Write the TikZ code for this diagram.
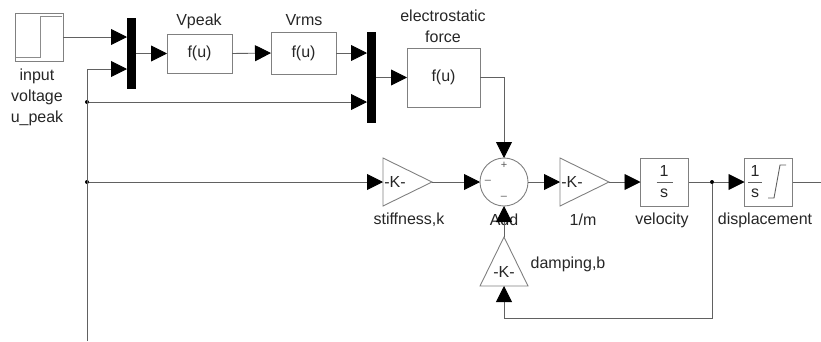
\documentclass[tikz,border=0pt]{standalone}
\usepackage{fontspec}
\setmainfont{Liberation Sans}
\usetikzlibrary{arrows.meta, calc, shapes.geometric}
\tikzset{
	diagram/.style={x=1pt,y=-1pt,font=\fontsize{16}{21}\selectfont,text=black!85},
	block/.style={rectangle,draw=black!50,line width=0.9pt,inner sep=0pt,outer sep=0pt},
	mux/.style={rectangle,fill=black,inner sep=0pt,outer sep=0pt,minimum width=9pt},
	gain/.style={isosceles triangle,isosceles triangle stretches,draw=black!50,line width=0.9pt,
		inner sep=0pt,outer sep=0pt,minimum width=48pt,minimum height=49pt},
	wire/.style={draw=black!62,line width=0.9pt},
	feed/.style={wire,-{Triangle[length=16pt,width=16pt,color=black]}},
	dot/.style={circle,fill=black,inner sep=0pt,outer sep=0pt,minimum size=4pt},
	caption/.style={align=center,inner sep=0pt},
	sign/.style={font=\fontsize{11}{11}\selectfont,text=black!65,inner sep=0pt}
}
\begin{document}
\begin{tikzpicture}[diagram]
	\useasboundingbox (0,0) rectangle (821,341);

	% top row
	\node[block,minimum width=48pt,minimum height=48pt] (input) at (39,37) {};
	\node[mux,minimum height=71pt] (muxa) at (131.5,53.5) {};
	\node[block,minimum width=65pt,minimum height=39pt] (vpeak) at (199.5,53.5) {f(u)};
	\node[block,minimum width=65pt,minimum height=42pt] (vrms) at (303.5,53) {f(u)};
	\node[mux,minimum height=91pt] (muxb) at (371.5,77.5) {};
	\node[block,minimum width=73pt,minimum height=59pt] (force) at (443.5,77.5) {f(u)};

	% step inside the source block
	\draw[black!45,line width=0.9pt] (16,57)--(40,57)--(40,16)--(62,16);

	\node[caption] (inputlabel) at (37,97) {input\\voltage\\u\_peak};
	\node[caption] (vpeaklabel) at (199,21) {Vpeak};
	\node[caption] (vrmslabel) at (304,20) {Vrms};
	\node[caption] (forcelabel) at (443,26.5) {electrostatic\\force};

	% bottom row
	\node[gain,anchor=lower side] (stiff) at (383,182) {};
	\node[circle,draw=black!50,line width=0.9pt,inner sep=0pt,outer sep=0pt,minimum size=48pt] (sum) at (504,182) {};
	\node[gain,anchor=lower side] (mass) at (560,182) {};
	\node[block,minimum size=48pt] (vel) at (664.5,182) {};
	\node[block,minimum size=48pt] (disp) at (768.5,182) {};
	\node[gain,shape border rotate=90,anchor=lower side] (damp) at (504,286) {};

	\node (stifftext) at (395,182) {-K-};
	\node (masstext) at (572,182) {-K-};
	\node (damptext) at (504,272) {-K-};
	\node[sign] (plus) at (504,165.5) {+};
	\node[sign] (minusa) at (488,182) {--};
	\node[sign] (minusb) at (504,198) {--};

	\node (velnum) at (664,171) {1};
	\node (veldenom) at (664,193) {s};
	\draw[black!62] (656.5,182)--(672.5,182);
	\node (dispnum) at (755,171) {1};
	\node (dispdenom) at (755,193) {s};
	\draw[black!62] (748,182)--(762,182);
	\draw[black!62,line width=0.9pt] (768,198)--(774,198)--(780,165)--(786,165);

	\node[caption] (stifflabel) at (409,220) {stiffness,k};
	\node[caption] (addlabel) at (504,220) {Add};
	\node[caption] (masslabel) at (583,220) {1/m};
	\node[caption] (vellabel) at (662,220) {velocity};
	\node[caption] (displabel) at (765,220) {displacement};
	\node[caption] (damplabel) at (568,264) {damping,b};

	\node[dot] (jtop) at (87,102) {};
	\node[dot] (jmid) at (87,182) {};
	\node[dot] (jvel) at (712,182) {};
	\coordinate (bottom) at (87,341);
	\coordinate (out) at (821,182);

	% connectors
	\draw[feed] (input.east) -- (input.east -| muxa.west);
	\draw[feed] (bottom) -- (87,69) -- (87,69 -| muxa.west);
	\draw[feed] (jtop) -- (jtop -| muxb.west);
	\draw[feed] (muxa.east) -- (vpeak.west);
	\draw[feed] (vpeak.east) -- (vrms.west);
	\draw[feed] (vrms.east) -- (vrms.east -| muxb.west);
	\draw[feed] (muxb.east) -- (force.west);
	\draw[feed] (force.east) -| (sum.north);
	\draw[feed] (jmid) -- (stiff.lower side);
	\draw[feed] (stiff.apex) -- (sum.west);
	\draw[feed] (sum.east) -- (mass.lower side);
	\draw[feed] (mass.apex) -- (vel.west);
	\draw[wire] (vel.east) -- (jvel);
	\draw[feed] (jvel) -- (disp.west);
	\draw[wire] (disp.east) -- (out);
	\draw[feed] (damp.apex) -- (sum.south);
	\draw[feed] (jvel) |- (504,318) -- (damp.lower side);
\end{tikzpicture}
\end{document}
